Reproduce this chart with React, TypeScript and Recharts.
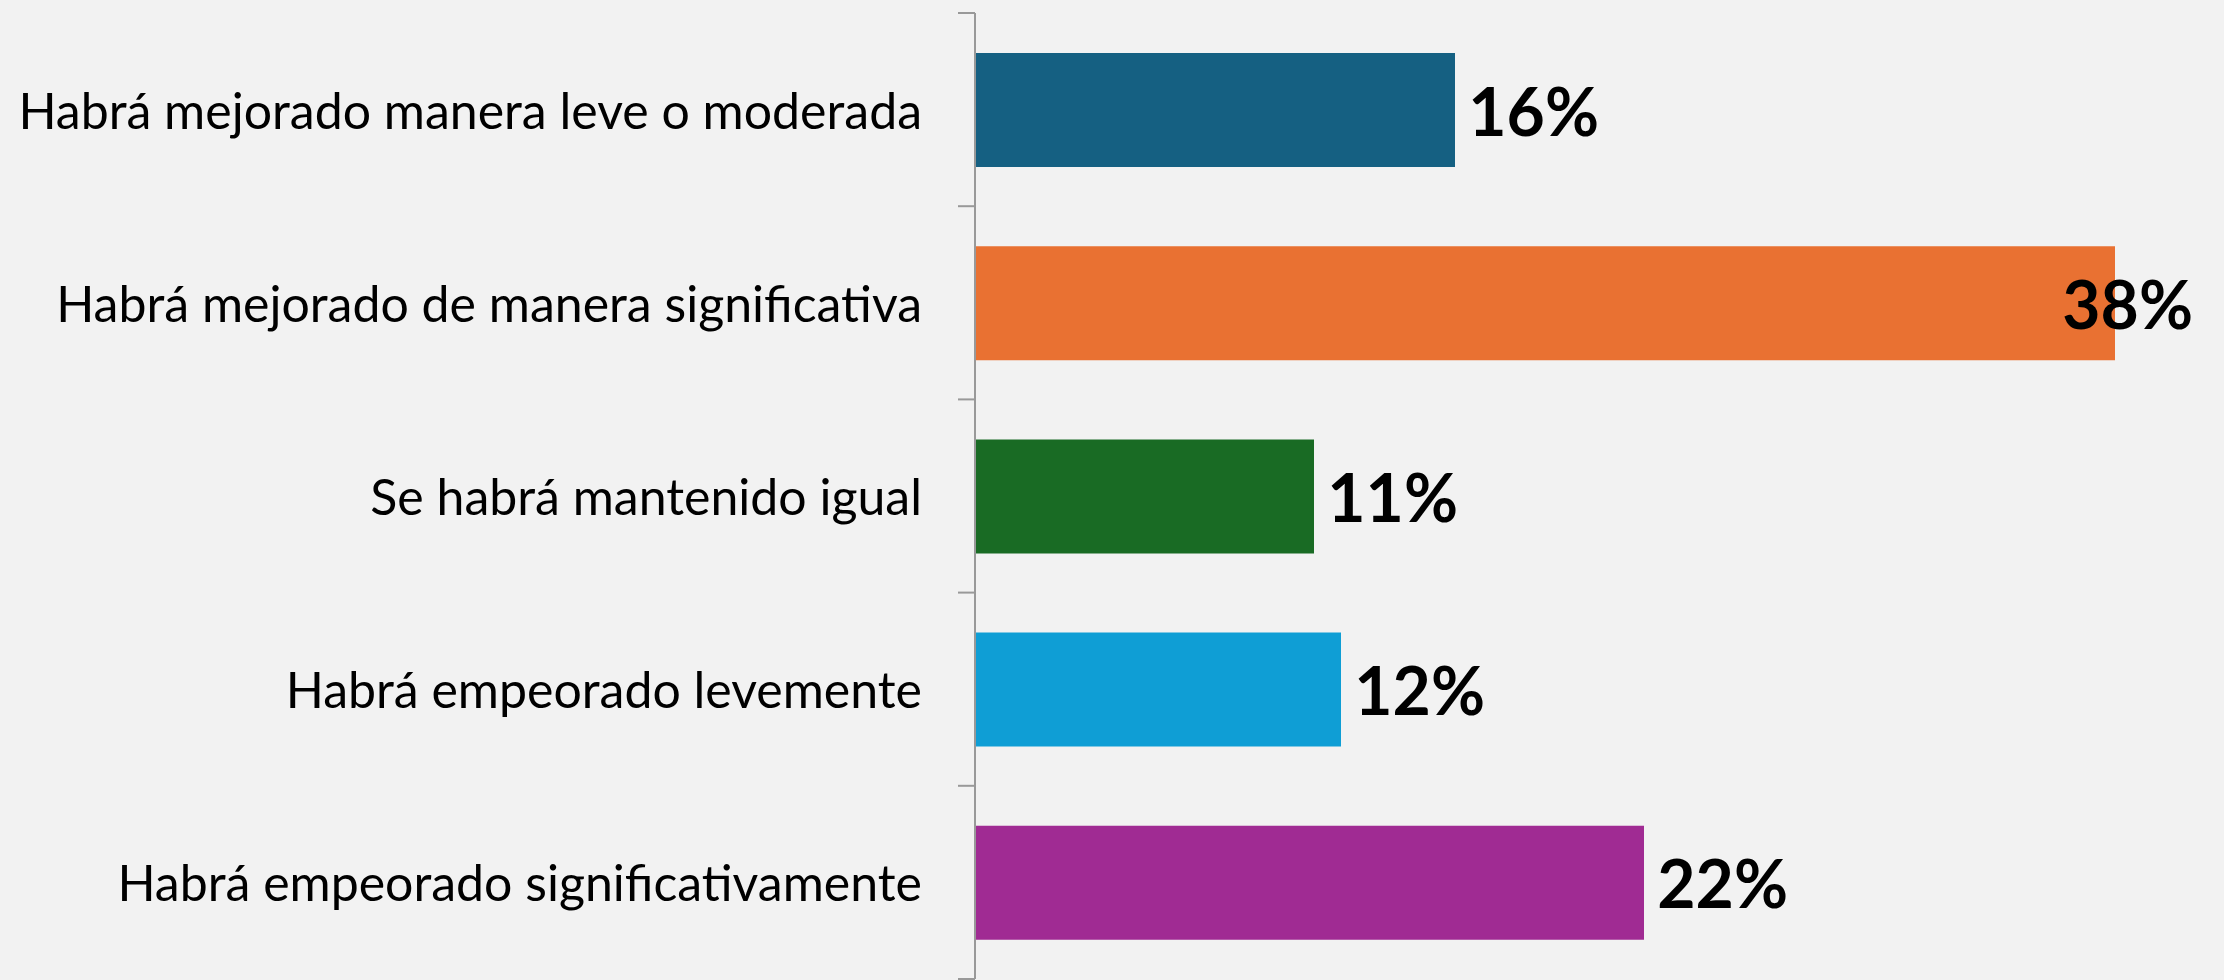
import React from "react";
import { BarChart, Bar, XAxis, YAxis, Cell, LabelList } from "recharts";

const categories = [
  "Habrá mejorado manera leve o moderada",
  "Habrá mejorado de manera significativa",
  "Se habrá mantenido igual",
  "Habrá empeorado levemente",
  "Habrá empeorado significativamente",
];
const values = [16.0, 38.0, 11.3, 12.2, 22.3];
const colors = ["#156082", "#E97132", "#196B24", "#0F9ED5", "#A02B93"];

const data = categories.map((name, i) => ({ name, value: values[i] }));

const W = 2224;
const H = 980;
const M = { top: 13, right: 109, bottom: 1, left: 0 };
const AXIS_W = 975;
const FONT = "Lato, 'Open Sans', sans-serif";
const LABEL_W = 126;

const CatTick = (props: any) => {
  const { x, y, payload, index } = props;
  const band = (H - M.top - M.bottom) / categories.length;
  return (
    <g>
      <line x1={x - 17} x2={x} y1={y - band / 2} y2={y - band / 2} stroke="#999" strokeWidth={2} />
      {index === categories.length - 1 && (
        <line x1={x - 17} x2={x} y1={y + band / 2} y2={y + band / 2} stroke="#999" strokeWidth={2} />
      )}
      <text x={x - 53} y={y} textAnchor="end" dominantBaseline="central" fontFamily={FONT} fontSize={50} fill="#000">
        {payload.value}
      </text>
    </g>
  );
};

const ValueLabel = (props: any) => {
  const { x, y, width, height, value } = props;
  const right = Math.min(x + width + 18 + LABEL_W, W - 31);
  return (
    <text
      x={right}
      y={y + height / 2}
      textAnchor="end"
      dominantBaseline="central"
      fontFamily={FONT}
      fontWeight="bold"
      fontSize={66}
      fill="#000"
    >
      {Math.round(value)}%
    </text>
  );
};

export default function App() {
  return (
    <div style={{ position: "absolute", left: 0, top: 0, width: W, height: H, background: "#f2f2f2" }}>
      <BarChart width={W} height={H} data={data} layout="vertical" margin={M}>
        <XAxis type="number" domain={[0, 38]} hide />
        <YAxis
          type="category"
          dataKey="name"
          width={AXIS_W}
          axisLine={{ stroke: "#999", strokeWidth: 2 }}
          tickLine={false}
          tickSize={0}
          tickMargin={0}
          tick={<CatTick />}
          interval={0}
        />
        <Bar dataKey="value" barSize={114} isAnimationActive={false}>
          {data.map((d, i) => (
            <Cell key={d.name} fill={colors[i]} />
          ))}
          <LabelList dataKey="value" content={<ValueLabel />} />
        </Bar>
      </BarChart>
    </div>
  );
}
